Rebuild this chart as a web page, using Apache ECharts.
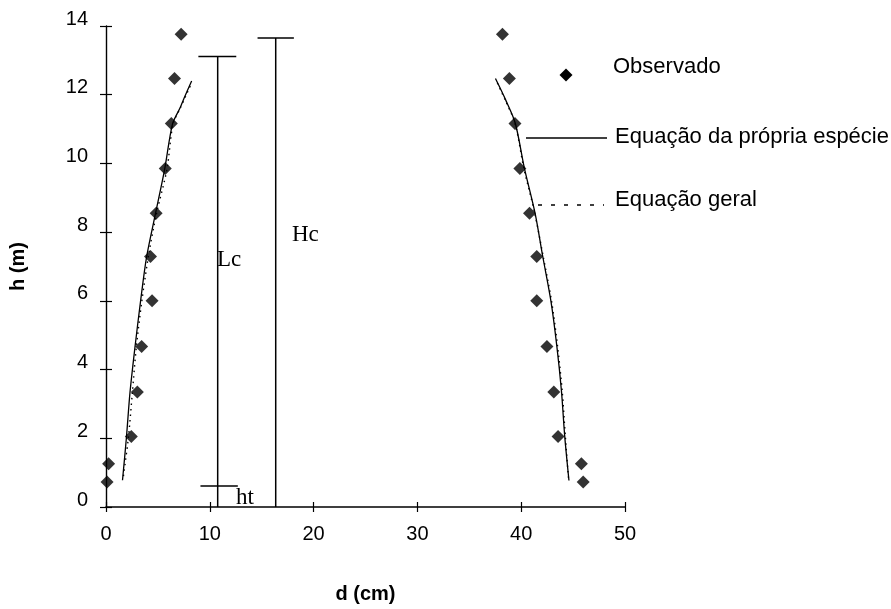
<!DOCTYPE html>
<html>
<head>
<meta charset="utf-8">
<script src="https://cdn.jsdelivr.net/npm/echarts@6/dist/echarts.min.js"></script>
<style>
html,body{margin:0;padding:0;background:#fff;}
#chart{width:891px;height:609px;}
</style>
</head>
<body>
<div id="chart"></div>
<script>
// ---- data ----
const obsH       = [0.73, 1.26, 2.05, 3.35, 4.67, 6.0, 7.29, 8.55, 9.85, 11.16, 12.47, 13.76];
const obsLeftD   = [0.1, 0.25, 2.44, 3.02, 3.43, 4.44, 4.29, 4.83, 5.71, 6.29, 6.6, 7.24];
const obsRightD  = [45.97, 45.8, 43.55, 43.14, 42.48, 41.5, 41.5, 40.8, 39.87, 39.4, 38.86, 38.19];

const eqLeftH    = [0.78, 2.03, 3.33, 4.65, 5.99, 7.26, 8.53, 9.83, 11.15, 11.62, 11.9, 12.4];
const eqLeftD    = [1.59, 1.97, 2.31, 2.79, 3.33, 3.9, 4.76, 5.65, 6.41, 7.14, 7.52, 8.25];
const eqRightH   = [0.77, 2.07, 3.37, 4.69, 6.0, 7.32, 8.56, 9.87, 11.17, 11.85, 12.47];
const eqRightD   = [44.6, 44.19, 43.88, 43.43, 42.86, 42.06, 41.33, 40.3, 39.43, 38.5, 37.52];

const geLeftH    = [0.9, 2.03, 3.33, 4.65, 5.99, 7.38, 8.53, 9.83, 11.15, 11.6, 12.3];
const geLeftD    = [1.68, 2.16, 2.54, 2.92, 3.45, 4.13, 4.86, 5.87, 6.46, 7.14, 8.19];
const geRightH   = [0.85, 2.07, 3.37, 4.69, 6.0, 7.32, 8.56, 9.87, 11.17, 11.85, 12.4];
const geRightD   = [44.55, 44.25, 43.95, 43.5, 42.92, 42.1, 41.3, 40.25, 39.4, 38.45, 37.6];

// annotation segments (d, h)
const lcD = 10.76, lcTopH = 13.11, lcCapD = [8.9, 12.55];
const hcD = 16.35, hcTopH = 13.65, hcCapD = [14.6, 18.1];
const htH = 0.61,  htD = [9.1, 12.7];

const xTicks = [0, 10, 20, 30, 40, 50];
const yTicks = [0, 2, 4, 6, 8, 10, 12, 14];

const legendNames = ['Observado', 'Equação da própria espécie', 'Equação geral'];
const xTitle = 'd (cm)', yTitle = 'h (m)';

// ---- build ----
const pair = (ds, hs) => ds.map((d, i) => [d, hs[i]]);
const SANS = '"Liberation Sans", Arial, sans-serif';
const SERIF = '"Liberation Serif", "Times New Roman", serif';

const chart = echarts.init(document.getElementById('chart'), null, {renderer: 'canvas'});

const lineStyleSolid = {color: '#000', width: 1.3, type: 'solid'};
const lineStyleDot = {color: '#000', width: 1.4, type: [1.5, 4]};

function segSeries(points) {
  return {
    type: 'line', data: points, symbol: 'none', silent: true, animation: false,
    lineStyle: {color: '#000', width: 1.5}, z: 1
  };
}

const option = {
  animation: false,
  backgroundColor: '#fff',
  grid: {left: 100, right: 266, top: 26, bottom: 88, containLabel: false},
  xAxis: [{
    type: 'value', min: xTicks[0], max: xTicks[xTicks.length - 1], interval: 10,
    name: xTitle, nameLocation: 'middle', nameGap: 77,
    nameTextStyle: {fontFamily: SANS, fontSize: 20, fontWeight: 'bold', color: '#000'},
    axisLine: {show: true, onZero: false, lineStyle: {color: '#000', width: 1.6}},
    axisTick: {show: true, inside: false, length: 5, lineStyle: {color: '#000', width: 1.2}},
    axisLabel: {show: true, margin: 17, fontFamily: SANS, fontSize: 20, color: '#000'},
    splitLine: {show: false}
  }, {
    type: 'value', min: xTicks[0], max: xTicks[xTicks.length - 1], interval: 10, position: 'bottom',
    axisLine: {show: false}, axisTick: {show: true, inside: true, length: 5, lineStyle: {color: '#000', width: 1.2}},
    axisLabel: {show: false}, splitLine: {show: false}
  }],
  yAxis: [{
    type: 'value', min: yTicks[0], max: yTicks[yTicks.length - 1], interval: 2,
    name: yTitle, nameLocation: 'middle', nameGap: 78, nameRotate: 90,
    nameTextStyle: {fontFamily: SANS, fontSize: 20, fontWeight: 'bold', color: '#000'},
    axisLine: {show: true, onZero: false, lineStyle: {color: '#000', width: 1.4}},
    axisTick: {show: true, inside: false, length: 6, lineStyle: {color: '#000', width: 1.2}},
    axisLabel: {show: true, margin: 18, fontFamily: SANS, fontSize: 20, color: '#000',
                verticalAlign: 'bottom', lineHeight: 14},
    splitLine: {show: false}
  }, {
    type: 'value', min: yTicks[0], max: yTicks[yTicks.length - 1], interval: 2, position: 'left',
    axisLine: {show: false}, axisTick: {show: true, inside: true, length: 6, lineStyle: {color: '#000', width: 1.2}},
    axisLabel: {show: false}, splitLine: {show: false}
  }],
  series: [
    {name: legendNames[1], type: 'line', data: pair(eqLeftD, eqLeftH), symbol: 'none', smooth: 0.3, lineStyle: lineStyleSolid, z: 2},
    {name: legendNames[1], type: 'line', data: pair(eqRightD, eqRightH), symbol: 'none', smooth: 0.3, lineStyle: lineStyleSolid, z: 2},
    {name: legendNames[2], type: 'line', data: pair(geLeftD, geLeftH), symbol: 'none', smooth: 0.3, lineStyle: lineStyleDot, z: 2},
    {name: legendNames[2], type: 'line', data: pair(geRightD, geRightH), symbol: 'none', smooth: 0.3, lineStyle: lineStyleDot, z: 2},
    {name: legendNames[0], type: 'scatter', data: pair(obsLeftD, obsH), symbol: 'diamond', symbolSize: 13,
     itemStyle: {color: '#000'}, z: 3},
    {name: legendNames[0], type: 'scatter', data: pair(obsRightD, obsH), symbol: 'diamond', symbolSize: 13,
     itemStyle: {color: '#000'}, z: 3},
    segSeries([[lcD, 0], [lcD, lcTopH]]),
    segSeries([[lcCapD[0], lcTopH], [lcCapD[1], lcTopH]]),
    segSeries([[hcD, 0], [hcD, hcTopH]]),
    segSeries([[hcCapD[0], hcTopH], [hcCapD[1], hcTopH]]),
    segSeries([[htD[0], htH], [htD[1], htH]])
  ],
  graphic: [
    // legend
    {type: 'polygon', shape: {points: [[566, 68.5], [572.5, 75], [566, 81.5], [559.5, 75]]}, style: {fill: '#000'}},
    {type: 'text', x: 613, y: 67, style: {text: legendNames[0], font: '22px ' + SANS, fill: '#000', verticalAlign: 'middle'}},
    {type: 'line', shape: {x1: 526, y1: 138, x2: 607, y2: 138}, style: {stroke: '#000', lineWidth: 1.3}},
    {type: 'text', x: 615, y: 137, style: {text: legendNames[1], font: '22px ' + SANS, fill: '#000', verticalAlign: 'middle'}},
    {type: 'line', shape: {x1: 538, y1: 205, x2: 604, y2: 205}, style: {stroke: '#000', lineWidth: 1.5, lineDash: [4, 9]}},
    {type: 'text', x: 615, y: 200, style: {text: legendNames[2], font: '22px ' + SANS, fill: '#000', verticalAlign: 'middle'}},
    // annotation labels
    {type: 'text', x: 217, y: 260, style: {text: 'Lc', font: '23px ' + SERIF, fill: '#000', verticalAlign: 'middle'}},
    {type: 'text', x: 292, y: 235, style: {text: 'Hc', font: '23px ' + SERIF, fill: '#000', verticalAlign: 'middle'}},
    {type: 'text', x: 236, y: 498, style: {text: 'ht', font: '23px ' + SERIF, fill: '#000', verticalAlign: 'middle'}}
  ]
};
chart.setOption(option);
</script>
</body>
</html>
